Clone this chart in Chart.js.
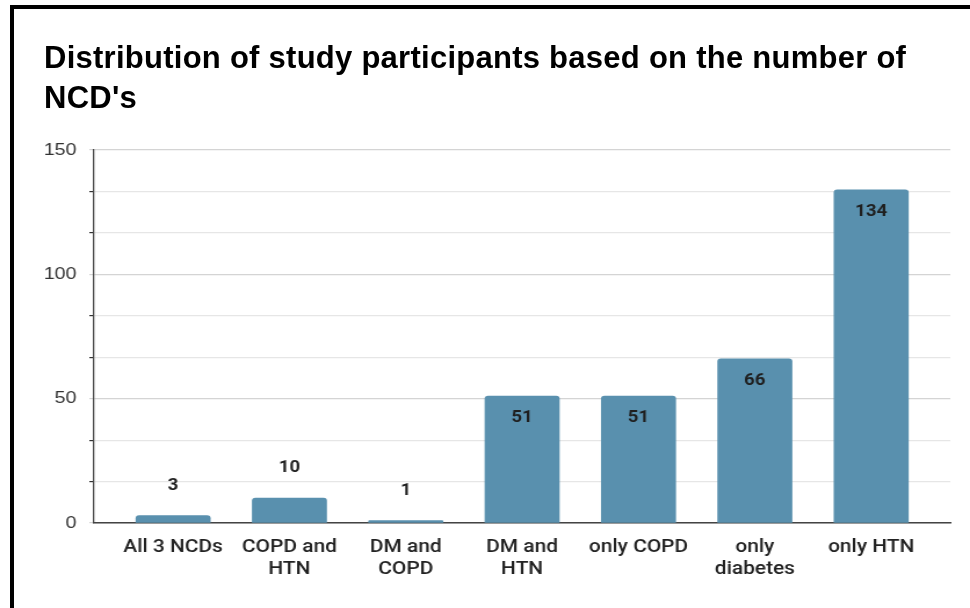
<!DOCTYPE html>
<html>
<head>
<meta charset="utf-8">
<script src="https://cdn.jsdelivr.net/npm/chart.js@4.4.0/dist/chart.umd.min.js"></script>
<style>
  html, body { margin: 0; padding: 0; background: #fff; }
  #wrap { position: relative; width: 970px; height: 608px; overflow: hidden; }
  #frame { position: absolute; left: 10px; top: 5px; width: 1000px; height: 700px; border-left: 4px solid #000; border-top: 4px solid #000; }
  #title { position: absolute; left: 44px; top: 38px; font: bold 31px/40px "Liberation Sans", Arial, sans-serif; letter-spacing: 0.26px; color: #000; white-space: nowrap; z-index: 2; }
  /* the reference plot is stretched sideways, so the canvas is too */
  canvas { position: absolute; left: 0; top: 0; transform: scaleX(1.1603); transform-origin: 0 0; }
</style>
</head>
<body>
<div id="wrap">
  <div id="frame"></div>
  <div id="title">Distribution of study participants based on the number of<br>NCD's</div>
  <canvas id="chart" width="836" height="608"></canvas>
</div>
<script>
// chart data
const categories = [['All 3 NCDs'], ['COPD and', 'HTN'], ['DM and', 'COPD'], ['DM and', 'HTN'], ['only COPD'], ['only', 'diabetes'], ['only HTN']];
const participants = [3, 10, 1, 51, 51, 66, 134];
const yLabels = [0, 50, 100, 150];

const barColor = '#5990ae';

// value labels: above short bars, inside the top of tall ones
const valueLabels = {
    id: 'valueLabels',
    afterDatasetsDraw(chart) {
        const ctx = chart.ctx;
        const meta = chart.getDatasetMeta(0);
        ctx.save();
        ctx.font = 'bold 16px Roboto, "Liberation Sans", Arial, sans-serif';
        ctx.fillStyle = '#1f1f1f';
        ctx.textAlign = 'center';
        ctx.textBaseline = 'middle';
        meta.data.forEach((bar, i) => {
            const h = bar.base - bar.y;
            const y = h > 40 ? bar.y + 22 : bar.y - 30;
            ctx.fillText(String(participants[i]), bar.x, y);
        });
        ctx.restore();
    }
};

const ctx = document.getElementById('chart').getContext('2d');
new Chart(ctx, {
    type: 'bar',
    data: {
        datasets: [{
            data: participants.map((v, i) => ({ x: i, y: v })),
            backgroundColor: barColor,
            borderRadius: { topLeft: 3, topRight: 3 },
            borderSkipped: 'bottom',
            barThickness: 64
        }]
    },
    options: {
        responsive: false,
        devicePixelRatio: 1,
        animation: false,
        layout: { padding: { left: 38, right: 17, top: 150, bottom: 15 } },
        plugins: {
            legend: { display: false },
            tooltip: { enabled: false },
            title: { display: false }
        },
        scales: {
            x: {
                type: 'linear',
                offset: false,
                min: -0.68,
                max: 6.68,
                afterBuildTicks: s => { s.ticks = categories.map((c, i) => ({ value: i })); },
                ticks: {
                    autoSkip: false,
                    maxRotation: 0,
                    padding: 13,
                    color: '#222',
                    font: { family: 'Roboto, "Liberation Sans", Arial, sans-serif', size: 18, weight: '500', lineHeight: 22 / 18 },
                    callback: v => categories[v]
                },
                grid: { display: false, drawTicks: false },
                border: { display: true, color: '#444', width: 1.5 }
            },
            y: {
                min: 0,
                max: 150,
                afterBuildTicks: s => { s.ticks = Array.from({ length: 10 }, (_, i) => ({ value: i * 50 / 3 })); },
                afterFit: s => { s.width = 43; },
                ticks: {
                    padding: 11,
                    color: '#333',
                    font: { family: '"Liberation Sans", Arial, sans-serif', size: 17 },
                    callback: (v, i) => (i % 3 === 0 ? String(yLabels[i / 3]) : '')
                },
                grid: {
                    color: c => (c.index % 3 === 0 ? '#d4d4d4' : '#e6e6e6'),
                    tickColor: c => (c.index % 3 === 0 ? '#d4d4d4' : '#333'),
                    tickLength: 4,
                    lineWidth: 1.2
                },
                border: { display: true, color: '#444', width: 1.3 }
            }
        }
    },
    plugins: [valueLabels]
});
</script>
</body>
</html>
